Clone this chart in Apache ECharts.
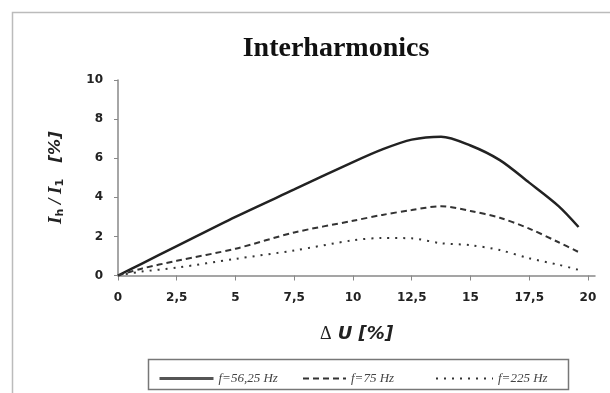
<!DOCTYPE html>
<html>
<head>
<meta charset="utf-8">
<script src="https://cdn.jsdelivr.net/npm/echarts@6/dist/echarts.min.js"></script>
<style>
  html, body { margin: 0; padding: 0; background: #fff; }
  #chart { width: 610px; height: 393px; }
</style>
</head>
<body>
<div id="chart"></div>
<script>
// delta U [%]
const deltaU = [0, 1, 2.5, 5, 7.5, 10, 11.25, 12.5, 13.75, 15, 16.25, 17.5, 18.75, 19.6];
// Ih / I1 [%]
const f5625 = [0, 0.6, 1.5, 3.0, 4.4, 5.8, 6.45, 6.95, 7.1, 6.65, 5.9, 4.75, 3.55, 2.48];
const f75 = [0, 0.35, 0.75, 1.37, 2.2, 2.8, 3.1, 3.35, 3.54, 3.3, 2.95, 2.4, 1.7, 1.2];
const f225 = [0, 0.2, 0.4, 0.85, 1.28, 1.8, 1.92, 1.9, 1.65, 1.55, 1.3, 0.88, 0.55, 0.29];
const xTicks = [0, 2.5, 5, 7.5, 10, 12.5, 15, 17.5, 20];
const names = ['f=56,25 Hz', 'f=75 Hz', 'f=225 Hz'];

const pairs = ys => deltaU.map((x, i) => [x, ys[i]]);

const chart = echarts.init(document.getElementById('chart'));

const legendText = {
  fontFamily: 'Liberation Serif',
  fontStyle: 'italic',
  fontSize: 13,
  color: '#444'
};
const legendBase = { top: 367, itemHeight: 14, textStyle: legendText, itemStyle: { opacity: 0 } };

chart.setOption({
  animation: false,
  grid: { left: 118, right: 15, top: 80, bottom: 117.5 },
  graphic: [
    {
      type: 'rect',
      shape: { x: 12.5, y: 12.5, width: 620, height: 400 },
      style: { fill: 'none', stroke: '#bbb', lineWidth: 1.5 }
    },
    {
      type: 'rect',
      shape: { x: 148.5, y: 359.5, width: 420, height: 30 },
      style: { fill: 'none', stroke: '#777', lineWidth: 1.5 }
    },
    {
      type: 'text',
      x: 336, y: 49,
      style: {
        text: 'Interharmonics',
        font: 'bold 28px "Liberation Serif"',
        fill: '#111',
        align: 'center',
        verticalAlign: 'middle'
      }
    }
  ],
  legend: [
    Object.assign({ data: [names[0]], left: 153, itemWidth: 54, lineStyle: { width: 3, color: '#555' } }, legendBase),
    Object.assign({ data: [names[1]], left: 297, itemWidth: 43 }, legendBase),
    Object.assign({ data: [names[2]], left: 430, itemWidth: 57 }, legendBase)
  ],
  xAxis: {
    type: 'value',
    min: 0,
    max: 20.3,
    name: '{d|Δ}{u| U [%]}',
    nameLocation: 'middle',
    nameGap: 50,
    nameTextStyle: {
      rich: {
        d: { fontFamily: 'Liberation Serif', fontSize: 18, color: '#222' },
        u: { fontFamily: 'DejaVu Sans', fontWeight: 'bold', fontStyle: 'italic', fontSize: 18, color: '#222' }
      }
    },
    axisLine: { lineStyle: { color: '#888', width: 1.5 } },
    axisTick: { show: true, length: 5, customValues: xTicks, lineStyle: { color: '#888' } },
    axisLabel: {
      customValues: xTicks,
      margin: 16,
      fontFamily: 'DejaVu Sans',
      fontWeight: 'bold',
      fontSize: 12,
      color: '#222',
      formatter: v => String(v).replace('.', ',')
    },
    splitLine: { show: false }
  },
  yAxis: {
    type: 'value',
    min: 0,
    max: 10,
    interval: 2,
    name: '{i|I}{s|h}{i| / I}{s|1}{p|   [%]}',
    nameLocation: 'middle',
    nameGap: 52,
    nameRotate: 90,
    nameTextStyle: {
      rich: {
        i: { fontFamily: 'Liberation Serif', fontWeight: 'bold', fontStyle: 'italic', fontSize: 19, color: '#222', lineHeight: 20 },
        s: { fontFamily: 'DejaVu Sans', fontWeight: 'bold', fontSize: 11, color: '#222', verticalAlign: 'bottom', lineHeight: 14 },
        p: { fontFamily: 'DejaVu Sans', fontWeight: 'bold', fontStyle: 'italic', fontSize: 16, color: '#222', lineHeight: 20 }
      }
    },
    axisLine: { show: true, lineStyle: { color: '#888', width: 1.5 } },
    axisTick: { show: true, length: 4, lineStyle: { color: '#888' } },
    axisLabel: {
      margin: 15,
      fontFamily: 'DejaVu Sans',
      fontWeight: 'bold',
      fontSize: 12,
      color: '#222'
    },
    splitLine: { show: false }
  },
  series: [
    {
      name: names[0], type: 'line', symbol: 'none', smooth: 0.3,
      data: pairs(f5625),
      lineStyle: { color: '#222', width: 2.5, type: 'solid' },
      itemStyle: { color: '#555' }
    },
    {
      name: names[1], type: 'line', symbol: 'none', smooth: 0.3,
      data: pairs(f75),
      lineStyle: { color: '#333', width: 2, type: [6, 4] },
      itemStyle: { color: '#555' }
    },
    {
      name: names[2], type: 'line', symbol: 'none', smooth: 0.3,
      data: pairs(f225),
      lineStyle: { color: '#333', width: 2, type: [2, 6] },
      itemStyle: { color: '#555' }
    }
  ]
});
</script>
</body>
</html>
